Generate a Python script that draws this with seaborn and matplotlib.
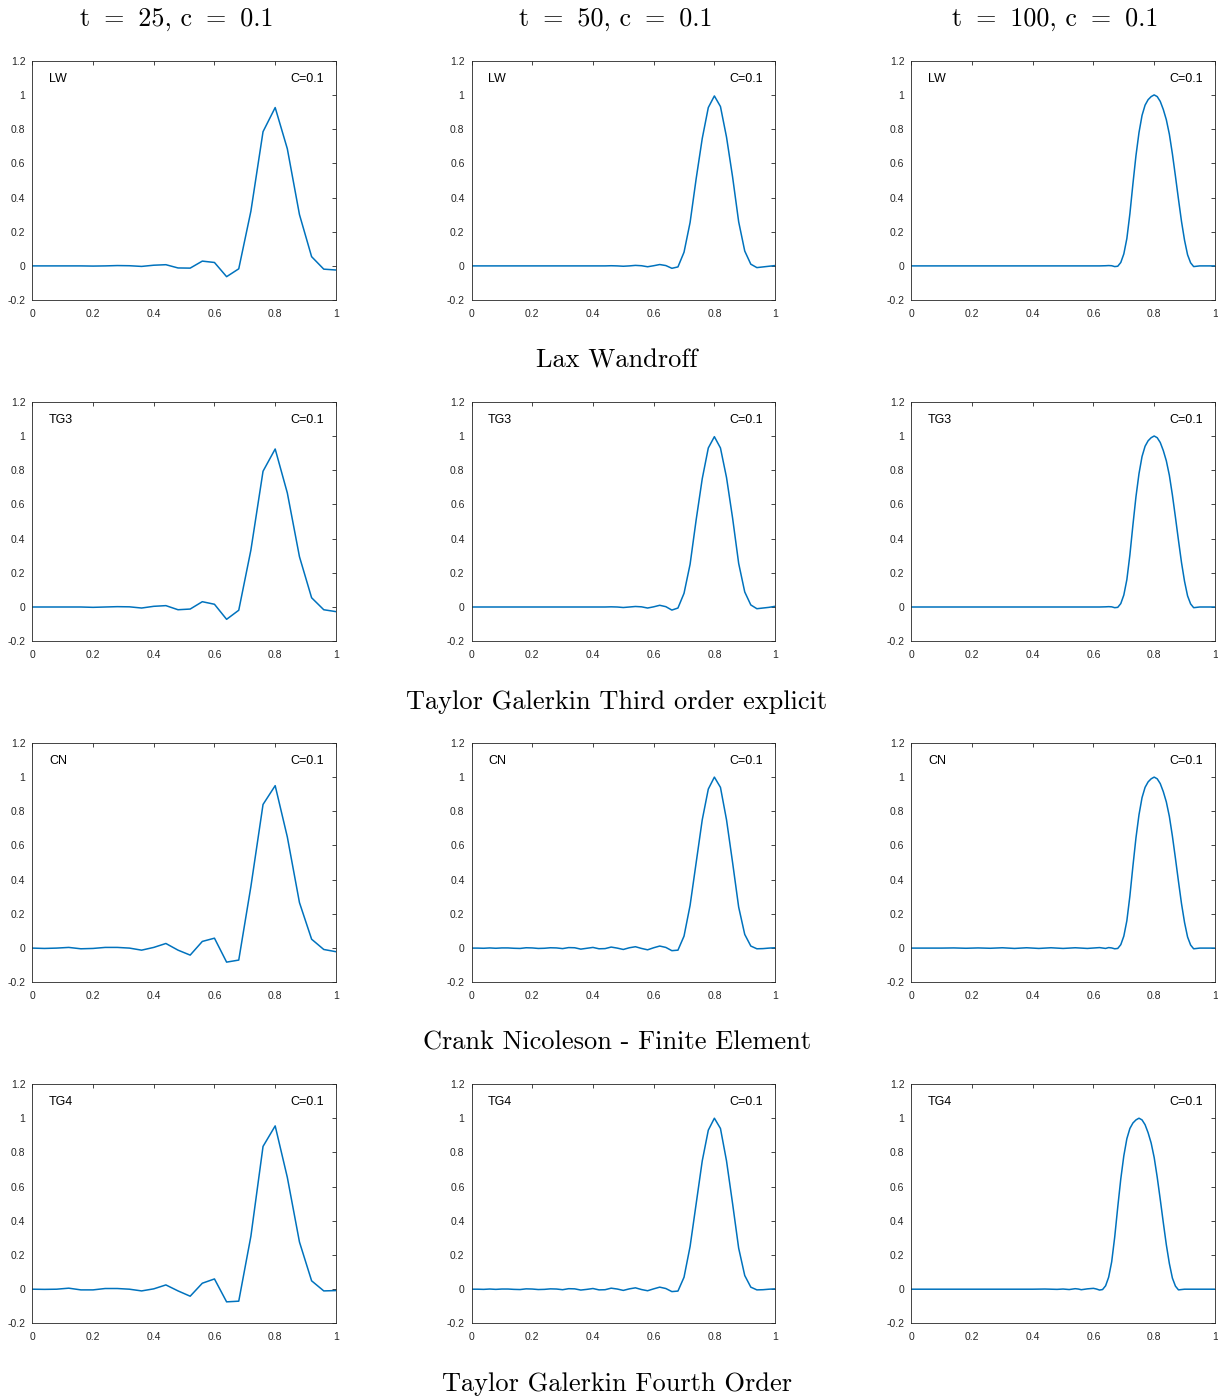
import numpy as np
import pandas as pd
import matplotlib
matplotlib.use("Agg")
import matplotlib.pyplot as plt
import seaborn as sns

# ---------------- data ----------------
COL_TITLES = ["t \u2009=\u2009 25, c \u2009=\u2009 0.1", "t \u2009=\u2009 50, c \u2009=\u2009 0.1",
              "t \u2009=\u2009 100, c \u2009=\u2009 0.1"]
ROW_TITLES = ["Lax Wandroff", "Taylor Galerkin Third order explicit",
              "Crank Nicoleson - Finite Element", "Taylor Galerkin Fourth Order"]
ROW_LABELS = ["LW", "TG3", "CN", "TG4"]
COURANT_LABEL = "C=0.1"

X_TICKS = [0, 0.2, 0.4, 0.6, 0.8, 1.0]
X_TICKLABELS = ["0", "0.2", "0.4", "0.6", "0.8", "1"]
Y_TICKS = [-0.2, 0, 0.2, 0.4, 0.6, 0.8, 1.0, 1.2]
Y_TICKLABELS = ["-0.2", "0", "0.2", "0.4", "0.6", "0.8", "1", "1.2"]

# t = 25 : grid spacing 0.04
X25 = [0.00, 0.04, 0.08, 0.12, 0.16, 0.20, 0.24, 0.28, 0.32, 0.36, 0.40, 0.44, 0.48,
       0.52, 0.56, 0.60, 0.64, 0.68, 0.72, 0.76, 0.80, 0.84, 0.88, 0.92, 0.96, 1.00]
LW25 = [0, 0, 0, 0, 0, -0.001, 0, 0.002, 0.001, -0.003, 0.004, 0.007, -0.012,
        -0.013, 0.028, 0.020, -0.063, -0.017, 0.32, 0.785, 0.926, 0.685, 0.300, 0.054, -0.019, -0.024]
TG3_25 = [0, 0, 0, 0, 0, -0.002, 0, 0.002, 0.001, -0.006, 0.004, 0.008, -0.016,
          -0.012, 0.031, 0.016, -0.072, -0.019, 0.333, 0.794, 0.924, 0.667, 0.294, 0.054, -0.016, -0.027]
CN25 = [0, -0.002, 0, 0.004, -0.004, -0.002, 0.004, 0.004, 0, -0.012, 0.004, 0.027, -0.012,
        -0.041, 0.039, 0.058, -0.082, -0.070, 0.36, 0.840, 0.950, 0.650, 0.266, 0.052, -0.008, -0.021]
TG4_25 = [0, -0.001, 0, 0.006, -0.004, -0.004, 0.004, 0.004, 0, -0.010, 0.002, 0.025, -0.010,
          -0.041, 0.035, 0.060, -0.074, -0.070, 0.31, 0.835, 0.955, 0.654, 0.276, 0.049, -0.010, -0.008]

# t = 50 : grid spacing 0.02
X50 = [0.00, 0.02, 0.04, 0.06, 0.08, 0.10, 0.12, 0.14, 0.16, 0.18, 0.20, 0.22, 0.24,
       0.26, 0.28, 0.30, 0.32, 0.34, 0.36, 0.38, 0.40, 0.42, 0.44, 0.46, 0.48, 0.50,
       0.52, 0.54, 0.56, 0.58, 0.60, 0.62, 0.64, 0.66, 0.68, 0.70, 0.72, 0.74, 0.76,
       0.78, 0.80, 0.82, 0.84, 0.86, 0.88, 0.90, 0.92, 0.94, 0.96, 0.98, 1.00]
LW50 = [0, 0, 0, 0, 0, 0, 0, 0, 0, 0, 0, 0, 0,
        0, 0, 0, 0, 0, 0, 0, 0, 0, 0, 0.001, 0, -0.002,
        0, 0.003, 0.001, -0.005, 0.001, 0.008, 0.002, -0.014, -0.006, 0.080, 0.254, 0.510, 0.745,
        0.926, 0.994, 0.932, 0.753, 0.520, 0.258, 0.087, 0.010, -0.010, -0.006, -0.002, 0.002]
TG3_50 = [0, 0, 0, 0, 0, 0, 0, 0, 0, 0, 0, 0, 0,
          0, 0, 0, 0, 0, 0, 0, 0, 0, 0, 0.001, 0, -0.003,
          0, 0.003, 0.001, -0.006, 0.001, 0.010, 0.002, -0.018, -0.006, 0.080, 0.250, 0.510, 0.750,
          0.930, 0.996, 0.930, 0.757, 0.520, 0.255, 0.088, 0.012, -0.010, -0.006, -0.002, 0.004]
CN50 = [0, 0, -0.001, 0.001, -0.001, 0.001, 0.001, -0.001, -0.002, 0.002, 0.001, -0.002, -0.001,
        0.002, 0.001, -0.003, 0.003, 0.002, -0.006, -0.001, 0.004, -0.004, -0.003, 0.006, 0.000, -0.008,
        0.002, 0.008, -0.002, -0.010, 0.002, 0.012, 0.004, -0.015, -0.012, 0.070, 0.250, 0.500, 0.750,
        0.930, 1.000, 0.940, 0.750, 0.500, 0.240, 0.080, 0.012, -0.004, -0.003, 0.000, 0.002]
TG4_50 = [0, 0, -0.001, 0.001, -0.001, 0.001, 0.001, -0.001, -0.002, 0.002, 0.001, -0.002, -0.001,
          0.002, 0.001, -0.003, 0.003, 0.002, -0.005, -0.001, 0.004, -0.004, -0.003, 0.006, 0.001, -0.007,
          0.002, 0.008, -0.002, -0.009, 0.002, 0.012, 0.004, -0.014, -0.011, 0.070, 0.250, 0.500, 0.750,
          0.930, 1.000, 0.940, 0.750, 0.500, 0.240, 0.080, 0.012, -0.004, -0.003, 0.000, 0.002]

# t = 100 : fine grid (flat stretches kept sparse)
X100 = [0.00, 0.60, 0.62, 0.64, 0.65, 0.66, 0.67, 0.68, 0.69, 0.70, 0.71, 0.72, 0.73,
        0.74, 0.75, 0.76, 0.77, 0.78, 0.79, 0.80, 0.81, 0.82, 0.83, 0.84, 0.85, 0.86,
        0.87, 0.88, 0.89, 0.90, 0.91, 0.92, 0.93, 0.94, 0.95, 1.00]
LW100 = [0, 0, 0.000, 0.001, 0.002, 0.001, -0.004, -0.002, 0.020, 0.070, 0.160, 0.305, 0.480,
         0.645, 0.780, 0.880, 0.940, 0.972, 0.990, 1.000, 0.990, 0.962, 0.915, 0.855, 0.770, 0.655,
         0.525, 0.390, 0.260, 0.150, 0.065, 0.018, -0.004, -0.002, 0, 0]
TG3_100 = [0, 0, 0.000, 0.001, 0.002, 0.001, -0.004, -0.002, 0.020, 0.070, 0.160, 0.305, 0.480,
           0.645, 0.780, 0.880, 0.940, 0.972, 0.990, 1.000, 0.990, 0.962, 0.915, 0.855, 0.770, 0.655,
           0.525, 0.390, 0.260, 0.150, 0.065, 0.018, -0.004, -0.002, 0, 0]
X100_CN = [0.00, 0.10, 0.14, 0.18, 0.22, 0.26, 0.30, 0.34, 0.38, 0.42, 0.46, 0.50, 0.54,
           0.58, 0.62, 0.64, 0.65, 0.66, 0.67, 0.68, 0.69, 0.70, 0.71, 0.72, 0.73,
           0.74, 0.75, 0.76, 0.77, 0.78, 0.79, 0.80, 0.81, 0.82, 0.83, 0.84, 0.85, 0.86,
           0.87, 0.88, 0.89, 0.90, 0.91, 0.92, 0.93, 0.94, 0.95, 1.00]
CN100 = [0, 0, 0.001, -0.001, 0.001, -0.001, 0.002, -0.002, 0.002, -0.002, 0.002, -0.002, 0.002,
         -0.002, 0.003, -0.002, 0.003, 0.001, -0.004, -0.002, 0.020, 0.070, 0.160, 0.305, 0.480,
         0.645, 0.780, 0.880, 0.940, 0.972, 0.990, 1.000, 0.990, 0.962, 0.915, 0.855, 0.770, 0.655,
         0.525, 0.390, 0.260, 0.150, 0.065, 0.018, -0.004, -0.002, 0, 0]
X100_TG4 = [0.00, 0.40, 0.44, 0.48, 0.50, 0.52, 0.54, 0.55, 0.56, 0.58, 0.60, 0.61, 0.62,
            0.63, 0.64, 0.65, 0.66, 0.67, 0.68, 0.69, 0.70, 0.71, 0.72, 0.73, 0.74, 0.75,
            0.76, 0.77, 0.78, 0.79, 0.80, 0.81, 0.82, 0.83, 0.84, 0.85, 0.86, 0.87, 0.88,
            0.89, 0.90, 1.00]
TG4_100 = [0, 0, 0.001, -0.001, 0.001, -0.002, 0.003, 0.001, -0.003, 0.002, 0.005, 0.001, -0.005,
           -0.002, 0.020, 0.070, 0.160, 0.305, 0.480, 0.645, 0.780, 0.880, 0.940, 0.972, 0.990, 1.000,
           0.990, 0.962, 0.915, 0.855, 0.770, 0.655, 0.525, 0.390, 0.260, 0.150, 0.065, 0.018, -0.004,
           -0.002, 0, 0]

PANELS = [
    [(X25, LW25), (X50, LW50), (X100, LW100)],
    [(X25, TG3_25), (X50, TG3_50), (X100, TG3_100)],
    [(X25, CN25), (X50, CN50), (X100_CN, CN100)],
    [(X25, TG4_25), (X50, TG4_50), (X100_TG4, TG4_100)],
]

# ---------------- style ----------------
sns.set_style("white")
plt.rcParams["font.family"] = ["Liberation Sans", "DejaVu Sans"]
LINE_COLOR = "#0072BD"
AX_COLOR = "#262626"

W, H = 1218, 1397
fig = plt.figure(figsize=(W / 100, H / 100), dpi=100)

col_left = [32.3, 471.5, 911.3]
ax_w = 303.6
row_top = [60.7, 401.8, 742.9, 1084.0]
ax_h = 239.4

for r in range(4):
    for c in range(3):
        ax = fig.add_axes([col_left[c] / W, 1 - (row_top[r] + ax_h) / H, ax_w / W, ax_h / H])
        xs, ys = PANELS[r][c]
        df = pd.DataFrame({"x": xs, "u": ys})
        sns.lineplot(data=df, x="x", y="u", ax=ax, color=LINE_COLOR, linewidth=1.1,
                     sort=False, estimator=None)
        ax.set_xlim(0, 1)
        ax.set_ylim(-0.2, 1.2)
        ax.set_xticks(X_TICKS)
        ax.set_xticklabels(X_TICKLABELS)
        ax.set_yticks(Y_TICKS)
        ax.set_yticklabels(Y_TICKLABELS)
        ax.set_xlabel("")
        ax.set_ylabel("")
        ax.tick_params(direction="in", top=True, right=True, length=3.2, width=0.6,
                       labelsize=7.5, colors=AX_COLOR)
        ax.tick_params(axis="x", pad=6.3)
        ax.tick_params(axis="y", pad=5)
        for s in ax.spines.values():
            s.set_visible(True)
            s.set_color(AX_COLOR)
            s.set_linewidth(0.6)
        ax.text(0.055, 0.924, ROW_LABELS[r], transform=ax.transAxes, ha="left", va="center",
                fontsize=9, color="black")
        ax.text(0.961, 0.924, COURANT_LABEL, transform=ax.transAxes, ha="right", va="center",
                fontsize=9, color="black")

col_title_x = [177, 616, 1055]
for c in range(3):
    fig.text(col_title_x[c] / W, 1 - 19 / H, COL_TITLES[c], ha="center", va="center",
             fontsize=18.8, family=["cmr10", "DejaVu Serif"], color="black")

row_title_y = [361, 702, 1043, 1384]
for r in range(4):
    fig.text(617 / W, 1 - row_title_y[r] / H, ROW_TITLES[r], ha="center", va="center",
             fontsize=19, family=["cmr10", "DejaVu Serif"], color="black")

fig.savefig("out.png", dpi=100)
